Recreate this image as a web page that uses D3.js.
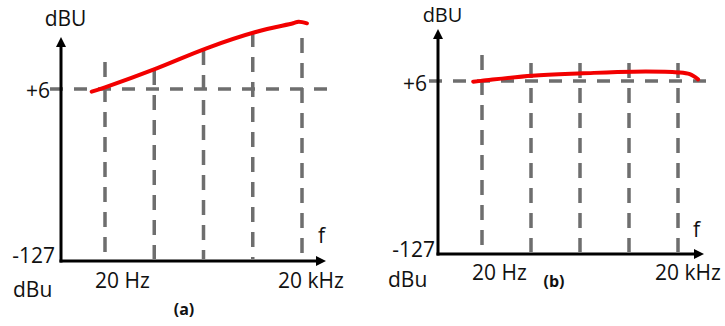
<!DOCTYPE html>
<html>
<head>
<meta charset="utf-8">
<script src="https://cdn.jsdelivr.net/npm/d3@7"></script>
<style>
  html, body { margin: 0; padding: 0; background: #fff; }
  svg { display: block; }
  text { font-family: "Open Sans", "DejaVu Sans", sans-serif; fill: #111; }
</style>
</head>
<body>
<svg id="chart" width="725" height="326"></svg>
<script>
// ---- data ----
const yLevels = [-127, 6];                 // y tick values (dBu)
const yTickLabels = ["-127", "+6"];
const gridIdx = [0, 1, 2, 3, 4];           // frequency grid positions
const xTickLabels = ["20 Hz", "", "", "", "20 kHz"];

// panel (a): rising response
const curveAx = [-0.27, 0, 1.05, 2.06, 3.08, 3.82, 3.93, 4.1];
const curveAy = [3.9, 7.3, 22.0, 37.5, 50.3, 56.8, 58.0, 56.8];
const gridTopA = [26.9, 20.7, 36.2, 50.1, 45.4];

// panel (b): nearly flat response
const curveBx = [-0.18, 0, 1.02, 2.06, 3.1, 4.0, 4.24, 4.41];
const curveBy = [5.5, 6.2, 10.1, 11.9, 13.2, 12.6, 11.2, 7.3];
const gridTopB = [26.0, 19.8, 19.8, 19.8, 19.8];

const panels = [
  { name: "(a)", cx: curveAx, cy: curveAy, gridTop: gridTopA,
    x0: 61, xEnd: 326, xr: [105, 302], yr: [261, 89], hEnd: 333, hStart: 50,
    lab: { dBU: [65.5, 26], six: [50, 98], m127: [55, 263], dBu: [13, 297],
           ticks: [[95, 288], [278, 288]], f: [318, 243], title: [184, 315] } },
  { name: "(b)", cx: curveBx, cy: curveBy, gridTop: gridTopB,
    x0: 438, xEnd: 704, xr: [482, 678], yr: [254, 81], hEnd: 711, hStart: 429,
    lab: { dBU: [442.5, 22], six: [427, 91], m127: [435, 257], dBu: [388, 287],
           ticks: [[472, 280], [655, 280]], f: [693, 237], title: [554, 287] } }
];

const svg = d3.select("#chart");
svg.append("rect").attr("width", 725).attr("height", 326).attr("fill", "#fff");

panels.forEach(p => {
  const g = svg.append("g");
  const x = d3.scaleLinear().domain([0, 4]).range(p.xr);
  const y = d3.scaleLinear().domain(yLevels).range(p.yr);
  const grid = "#6e6e6e";

  // horizontal dashed +6 line
  g.append("line")
    .attr("x1", p.hStart).attr("x2", p.hEnd)
    .attr("y1", y(6)).attr("y2", y(6))
    .attr("stroke", grid).attr("stroke-width", 3.5)
    .attr("stroke-dasharray", "13,11");

  // vertical dashed grid lines
  g.selectAll("line.v").data(gridIdx).join("line")
    .attr("class", "v")
    .attr("x1", d => x(d)).attr("x2", d => x(d))
    .attr("y1", (d, i) => y(p.gridTop[i])).attr("y2", y(-127) - 2)
    .attr("stroke", grid).attr("stroke-width", 3.5)
    .attr("stroke-dasharray", "15,10");

  // red response curve
  const pts = p.cx.map((v, i) => [v, p.cy[i]]);
  g.append("path")
    .attr("d", d3.line().x(d => x(d[0])).y(d => y(d[1])).curve(d3.curveCatmullRom)(pts))
    .attr("fill", "none").attr("stroke", "#f20000").attr("stroke-width", 4)
    .attr("stroke-linecap", "round");

  // axes
  const y0 = y(-127);
  const yTop = y(6) - 52;
  g.append("line").attr("x1", p.x0).attr("x2", p.x0)
    .attr("y1", y0 + 1.5).attr("y2", yTop + 8)
    .attr("stroke", "#000").attr("stroke-width", 3);
  g.append("line").attr("x1", p.x0 - 1.5).attr("x2", p.xEnd - 8)
    .attr("y1", y0).attr("y2", y0)
    .attr("stroke", "#000").attr("stroke-width", 3);
  g.append("path")
    .attr("d", `M${p.x0},${yTop} L${p.x0 - 5},${yTop + 10} L${p.x0 + 5},${yTop + 10} Z`)
    .attr("fill", "#000");
  g.append("path")
    .attr("d", `M${p.xEnd},${y0} L${p.xEnd - 10},${y0 - 5} L${p.xEnd - 10},${y0 + 5} Z`)
    .attr("fill", "#000");

  // labels
  const fs = 21;
  g.append("text").attr("x", p.lab.dBU[0]).attr("y", p.lab.dBU[1])
    .attr("text-anchor", "middle").attr("font-size", p.name === "(b)" ? 20 : fs).text("dBU");
  g.append("text").attr("x", p.lab.six[0]).attr("y", p.lab.six[1])
    .attr("text-anchor", "end").attr("font-size", fs).text(yTickLabels[1]);
  g.append("text").attr("x", p.lab.m127[0]).attr("y", p.lab.m127[1])
    .attr("text-anchor", "end").attr("font-size", fs).text(yTickLabels[0]);
  g.append("text").attr("x", p.lab.dBu[0]).attr("y", p.lab.dBu[1])
    .attr("font-size", fs).text("dBu");
  const shown = xTickLabels.filter(t => t);
  shown.forEach((t, i) => {
    g.append("text").attr("x", p.lab.ticks[i][0]).attr("y", p.lab.ticks[i][1])
      .attr("font-size", fs).text(t);
  });
  g.append("text").attr("x", p.lab.f[0]).attr("y", p.lab.f[1])
    .attr("font-size", fs).text("f");
  g.append("text").attr("x", p.lab.title[0]).attr("y", p.lab.title[1])
    .attr("text-anchor", "middle").attr("font-size", 16).attr("font-weight", "bold").text(p.name);
});
</script>
</body>
</html>
